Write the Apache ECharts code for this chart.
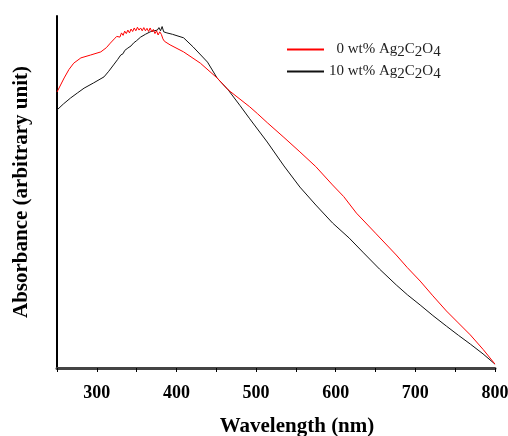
<!DOCTYPE html>
<html><head><meta charset="utf-8">
<script src="https://cdn.jsdelivr.net/npm/echarts@6/dist/echarts.min.js"></script>
<style>html,body{margin:0;padding:0;background:#fff}#c{width:508px;height:436px}</style>
</head><body><div id="c"></div>
<script>
// Wavelength (nm) and absorbance (arbitrary unit)
const redX = [250,259,265,271,280,292,305,312,317,322,325,327,329,331,333,335,337,339,341,343,345,347,349,351,353,355,357,359,361,363,365,367,369,371,373,375,377,379,381,383,385,392,409,430,451,465,492,502,514,535,555,575,596,610,626,650,676,690,706,722,739,754,769,785,800];
const redY = [0.784,0.824,0.848,0.866,0.881,0.889,0.898,0.910,0.923,0.935,0.942,0.946,0.940,0.952,0.945,0.957,0.950,0.960,0.952,0.963,0.956,0.966,0.958,0.968,0.960,0.966,0.958,0.967,0.958,0.965,0.956,0.966,0.955,0.962,0.950,0.958,0.946,0.955,0.948,0.935,0.928,0.918,0.898,0.866,0.824,0.790,0.742,0.722,0.697,0.655,0.614,0.572,0.520,0.487,0.440,0.383,0.321,0.285,0.247,0.205,0.162,0.128,0.094,0.053,0.011];
const blackX = [250,258,267,276,284,296,309,315,321,326,330,333,335,337,339,343,346,350,355,361,367,372,376,378,380,382,384,388,395,409,421,439,451,465,480,492,514,535,555,575,596,617,635,655,676,690,706,722,739,754,769,785,800];
const blackY = [0.733,0.750,0.767,0.782,0.795,0.810,0.827,0.843,0.861,0.876,0.889,0.893,0.902,0.900,0.909,0.915,0.923,0.930,0.940,0.948,0.955,0.958,0.960,0.967,0.958,0.970,0.955,0.952,0.948,0.938,0.912,0.869,0.824,0.790,0.745,0.708,0.642,0.574,0.514,0.463,0.412,0.369,0.327,0.281,0.236,0.208,0.179,0.149,0.119,0.093,0.068,0.040,0.011];
const seriesNames = ['0 wt% Ag2C2O4','10 wt% Ag2C2O4'];
const xTitle = 'Wavelength (nm)';
const yTitle = 'Absorbance (arbitrary unit)';

const zip = (xs, ys) => xs.map((x, i) => [x, ys[i]]);
const chart = echarts.init(document.getElementById('c'));
const serif = '"Liberation Serif","Times New Roman",serif';
chart.setOption({
  animation: false,
  grid: {left: 57, right: 13, top: 16, bottom: 68, containLabel: false, outerBoundsMode: 'none'},
  legend: {
    orient: 'vertical', left: 287, top: 39, padding: 0, itemWidth: 37, itemHeight: 2, itemGap: 1,
    icon: 'rect',
    data: seriesNames,
    formatter: function (name) {
      const pre = name.startsWith('0 ') ? '  0' : '10';
      return '{a|' + pre + ' wt% Ag}{s|2}{a|C}{s|2}{a|O}{s|4}';
    },
    textStyle: {
      padding: [0,0,0,0],
      rich: {
        a: {fontFamily: serif, fontSize: 15, color: '#222', lineHeight: 17},
        s: {fontFamily: serif, fontSize: 15, color: '#222', padding: [6,0,0,0], lineHeight: 17}
      }
    }
  },
  xAxis: {
    type: 'value', min: 250, max: 800, interval: 50,
    axisLine: {show: true, lineStyle: {color: '#444', width: 3}},
    axisTick: {show: true, inside: false, length: 4, lineStyle: {color: '#000', width: 1}},
    splitLine: {show: false},
    axisLabel: {
      margin: 16, fontFamily: serif, fontWeight: 'bold', fontSize: 18, color: '#000',
      formatter: v => (v % 100 === 0 ? String(v) : '')
    },
    name: xTitle, nameLocation: 'middle', nameGap: 48,
    nameTextStyle: {fontFamily: serif, fontWeight: 'bold', fontSize: 21, color: '#000', padding: [0,0,0,42]}
  },
  yAxis: {
    type: 'value', min: 0, max: 1,
    axisLine: {show: true, lineStyle: {color: '#000', width: 2}},
    axisTick: {show: false}, axisLabel: {show: false}, splitLine: {show: false},
    name: yTitle, nameLocation: 'middle', nameGap: 25, nameRotate: 90,
    nameTextStyle: {fontFamily: serif, fontWeight: 'bold', fontSize: 21, color: '#000', padding: [0,0,0,0]}
  },
  series: [
    {name: seriesNames[0], type: 'line', showSymbol: false, data: zip(redX, redY),
     lineStyle: {color: '#ff0000', width: 1}, itemStyle: {color: '#ff0000'}, z: 3},
    {name: seriesNames[1], type: 'line', showSymbol: false, data: zip(blackX, blackY),
     lineStyle: {color: '#111', width: 1}, itemStyle: {color: '#111'}, z: 2}
  ]
});
</script></body></html>
